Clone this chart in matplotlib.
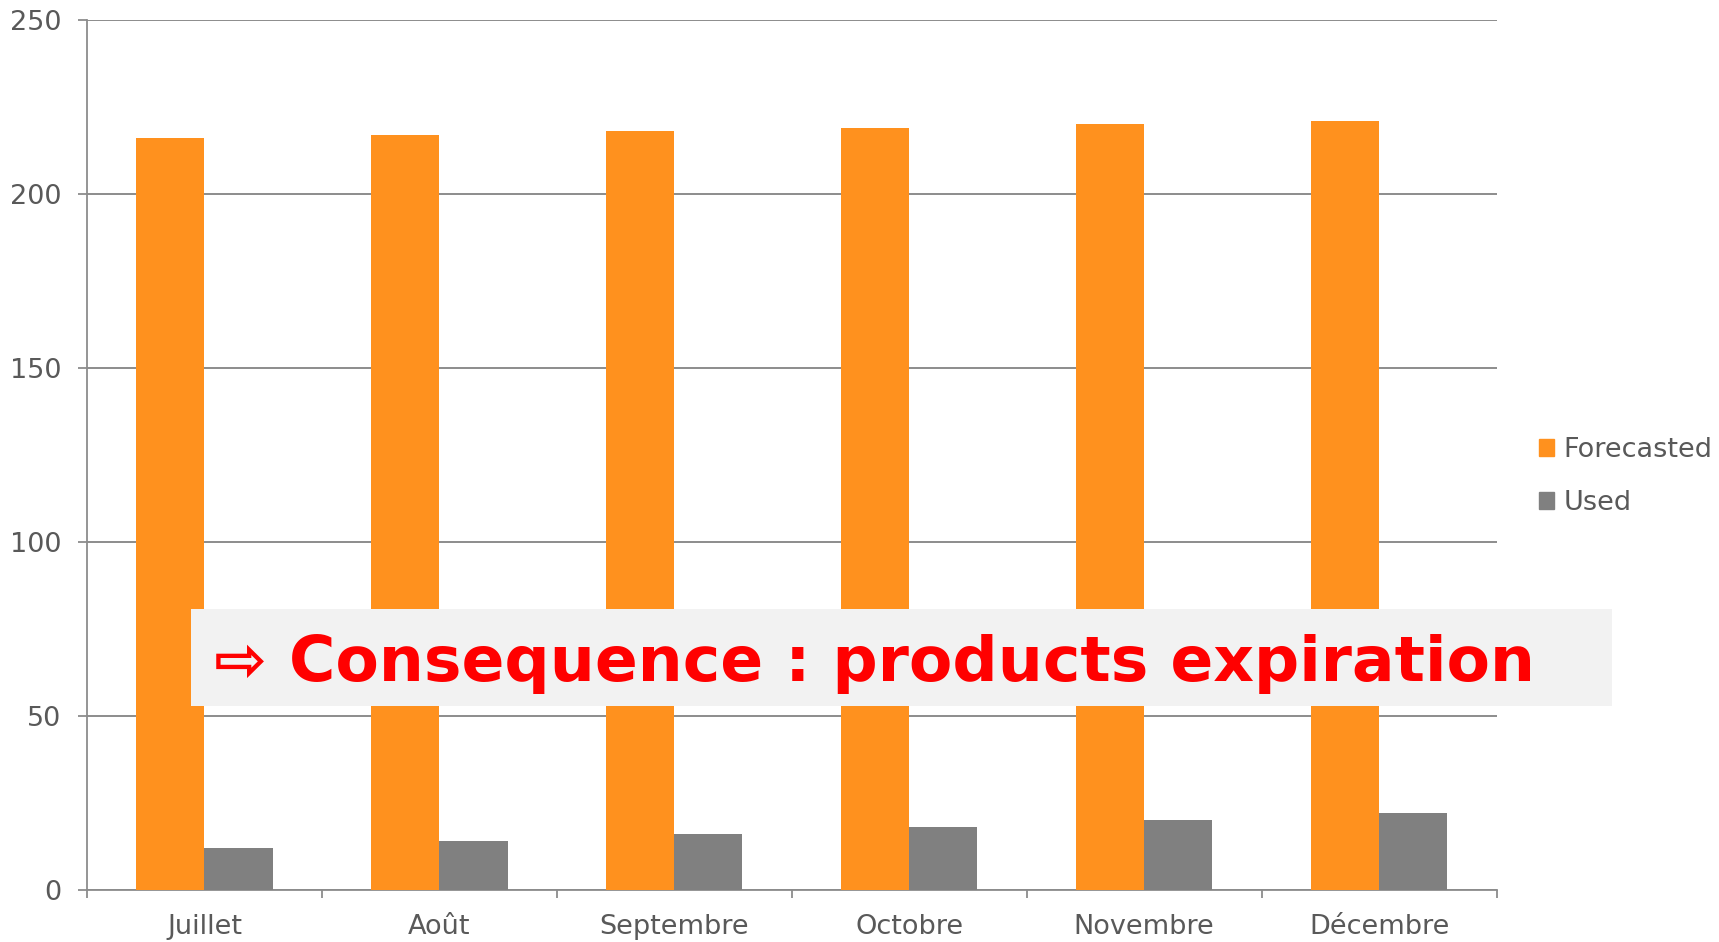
"""Monthly forecasted vs. used quantities, with the expiration callout."""
import matplotlib

matplotlib.use("Agg")
import matplotlib.pyplot as plt
import numpy as np
from matplotlib.patches import Patch, Rectangle

MONTHS = ["Juillet", "Août", "Septembre", "Octobre", "Novembre", "Décembre"]
FORECASTED = [216, 217, 218, 219, 220, 221]
USED = [12, 14, 16, 18, 20, 22]
SERIES = ["Forecasted", "Used"]
CALLOUT = "⇨ Consequence : products expiration"

ORANGE = "#FF911E"
GREY = "#808080"
TEXT = "#595959"
LINE = "#8C8C8C"


def main() -> None:
    fig = plt.figure(figsize=(17.19, 9.42), dpi=100)
    ax = fig.add_axes([0.0506, 0.0552, 0.8200, 0.9239])

    x = np.arange(len(MONTHS))
    width = 0.29
    ax.bar(x - width / 2, FORECASTED, width, color=ORANGE, zorder=3)
    ax.bar(x + width / 2, USED, width, color=GREY, zorder=3)

    ax.set_xlim(-0.5, len(MONTHS) - 0.5)
    ax.set_ylim(0, 250)
    ax.set_yticks(range(0, 251, 50))
    ax.yaxis.grid(True, color=LINE, linewidth=1.4, zorder=0)

    # category boundaries carry the tick marks, centres carry the labels
    ax.set_xticks(np.arange(-0.5, len(MONTHS)), labels=[""] * (len(MONTHS) + 1))
    ax.set_xticks(x, labels=MONTHS, minor=True)
    ax.tick_params(axis="x", which="major", length=6, width=1.3, color=LINE)
    ax.tick_params(axis="x", which="minor", length=0, pad=17,
                   labelsize=19.5, labelcolor=TEXT)
    ax.tick_params(axis="y", length=6.5, width=1.3, color=LINE, pad=12,
                   labelsize=19.5, labelcolor=TEXT)

    for side in ("top", "right"):
        ax.spines[side].set_visible(False)
    for side in ("left", "bottom"):
        ax.spines[side].set_color(LINE)
        ax.spines[side].set_linewidth(1.3)

    handles = [Patch(color=ORANGE), Patch(color=GREY)]
    fig.legend(handles, SERIES, loc="center left",
               bbox_to_anchor=(0.881, 0.494), frameon=False, fontsize=19.5,
               labelcolor=TEXT, handlelength=0.55, handleheight=0.55,
               handletextpad=0.35, labelspacing=1.0)

    # grey callout band across the lower part of the chart
    fig.add_artist(Rectangle((0.111, 0.2505), 0.8265, 0.1025,
                             transform=fig.transFigure, facecolor="#F2F2F2",
                             edgecolor="none", zorder=5))
    fig.text(0.1245, 0.2955, CALLOUT, color="#FF0000", fontsize=45.5,
             fontweight="bold", va="center", ha="left", zorder=6)

    fig.savefig("out.png", dpi=100)
    plt.close(fig)


if __name__ == "__main__":
    main()
